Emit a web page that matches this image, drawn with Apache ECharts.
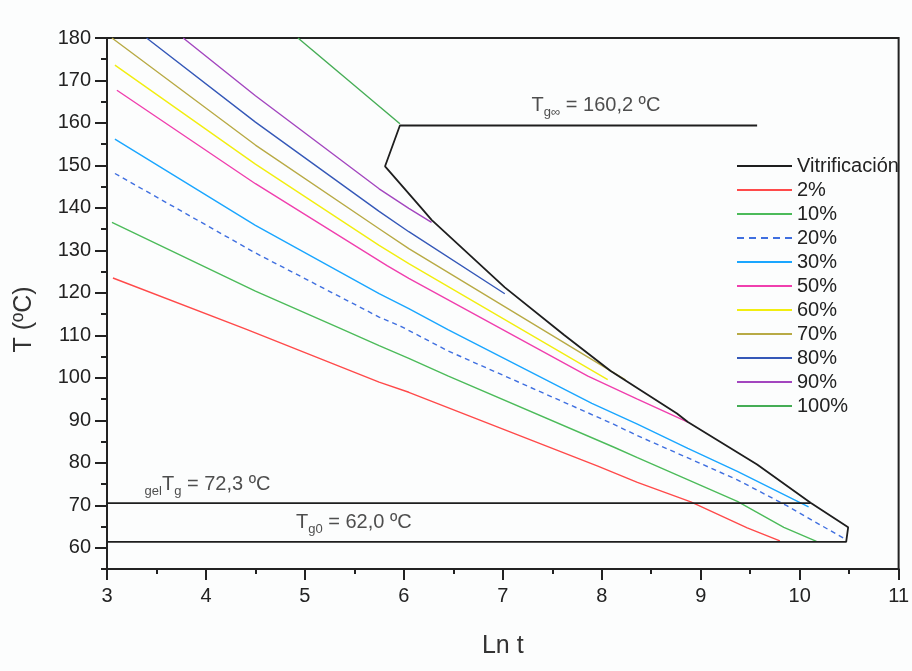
<!DOCTYPE html>
<html><head><meta charset="utf-8">
<script src="https://cdn.jsdelivr.net/npm/echarts@6/dist/echarts.min.js"></script>
<style>html,body{margin:0;padding:0;background:#fcfdfd}#c{width:912px;height:671px}</style>
</head><body><div id="c"></div>
<script>
const FONT = "'Liberation Sans', Arial, sans-serif";

// Tick labels
const xTicks = [3, 4, 5, 6, 7, 8, 9, 10, 11];
const yTicks = [60, 70, 80, 90, 100, 110, 120, 130, 140, 150, 160, 170, 180];

// Vitrificación curve (Ln t, T)
const vitX = [9.57, 5.96, 5.81, 6.18, 6.28, 7.02, 7.62, 8.09, 8.76, 8.87, 9.57, 10.11, 10.49, 10.47, 3.0];
const vitY = [159.4, 159.4, 149.8, 139.9, 137.2, 121.3, 110.1, 101.6, 91.6, 89.6, 79.6, 70.6, 64.8, 61.4, 61.4];
// gelTg line
const gelX = [3.0, 10.11];
const gelY = [70.5, 70.5];

// Isoconversion curves
const c2X = [3.06, 4.41, 5.75, 6.05, 7.96, 8.36, 8.90, 9.47, 9.80];
const c2Y = [123.5, 111.4, 99.0, 96.6, 79.2, 75.4, 70.8, 64.7, 61.6];
const c10X = [3.05, 4.5, 5.34, 5.75, 6.05, 6.45, 8.13, 8.36, 9.37, 9.84, 10.17];
const c10Y = [136.6, 120.4, 111.8, 107.6, 104.6, 100.4, 83.6, 81.2, 70.9, 64.8, 61.5];
const c20X = [3.08, 4.5, 5.75, 5.98, 6.45, 8.09, 8.36, 9.37, 9.87, 10.47];
const c20Y = [148.1, 129.4, 114.3, 112.0, 106.3, 89.4, 86.4, 76.0, 69.9, 61.9];
const c30X = [3.08, 4.5, 5.75, 6.05, 6.45, 7.90, 8.36, 8.87, 9.37, 10.09];
const c30Y = [156.2, 135.9, 119.8, 116.3, 111.3, 94.0, 89.1, 83.4, 78.0, 69.6];
const c50X = [3.10, 4.5, 5.83, 6.05, 7.86, 8.36, 8.87];
const c50Y = [167.7, 145.7, 126.4, 123.4, 100.4, 95.0, 89.6];
const c60X = [3.08, 4.5, 5.75, 6.05, 8.06];
const c60Y = [173.6, 150.3, 131.2, 126.9, 99.6];
const c70X = [3.05, 4.5, 5.75, 6.05, 8.24];
const c70Y = [180.0, 154.8, 135.1, 130.4, 99.5];
const c80X = [3.40, 4.5, 5.75, 6.05, 7.02];
const c80Y = [180.0, 160.2, 139.2, 134.4, 119.8];
const c90X = [3.77, 4.5, 5.75, 6.05, 6.28];
const c90Y = [180.0, 166.4, 144.5, 139.9, 136.6];
const c100X = [4.93, 5.96];
const c100Y = [180.0, 159.8];

const names = ['Vitrificación', '2%', '10%', '20%', '30%', '50%', '60%', '70%', '80%', '90%', '100%'];
const colors = ['#1e1e1e', '#ff4a4a', '#4cbb5a', '#3f6fe0', '#1aa6ff', '#f03fae', '#f2ee10', '#b8aa45', '#3558b8', '#a346bf', '#45ad55'];
const curvesX = [vitX, c2X, c10X, c20X, c30X, c50X, c60X, c70X, c80X, c90X, c100X];
const curvesY = [vitY, c2Y, c10Y, c20Y, c30Y, c50Y, c60Y, c70Y, c80Y, c90Y, c100Y];

// Annotations
const annX = [7.29, 3.38, 4.91];
const annY = [164.2, 74.9, 65.9];
const annText = [
  '{m|T}{s|g∞}{m| = 160,2 ºC}',
  '{s|gel}{m|T}{s|g}{m| = 72,3 ºC}',
  '{m|T}{s|g0}{m| = 62,0 ºC}'
];

const zip = (xs, ys) => xs.map((x, i) => [x, ys[i]]);

const series = names.map((n, i) => ({
  name: n,
  type: 'line',
  data: zip(curvesX[i], curvesY[i]),
  symbol: 'none',
  showSymbol: false,
  smooth: false,
  z: i === 0 ? 5 : 3,
  lineStyle: { color: colors[i], width: i === 0 ? 1.8 : 1.4, type: n === '20%' ? [5, 4] : 'solid' },
  itemStyle: { color: colors[i] }
}));
series.push({
  name: 'gel', type: 'line', data: zip(gelX, gelY), symbol: 'none',
  lineStyle: { color: '#1e1e1e', width: 1.8 }, z: 5
});
series.push({
  name: 'ann', type: 'scatter', symbolSize: 0,
  data: annX.map((x, i) => ({ value: [x, annY[i]], label: { formatter: annText[i] } })),
  label: {
    show: true, position: [0, 0], align: 'left', verticalAlign: 'middle',
    rich: {
      m: { fontSize: 20, fontFamily: FONT, color: '#222' },
      s: { fontSize: 13, fontFamily: FONT, color: '#222', padding: [14, 0, 0, 0] }
    }
  },
  z: 10
});

const dashIcon = 'path://M0,0h7v2h-7z M12,0h7v2h-7z M24,0h7v2h-7z M36,0h7v2h-7z M48,0h7v2h-7z';

const chart = echarts.init(document.getElementById('c'));
chart.setOption({
  backgroundColor: '#fcfdfd',
  animation: false,
  grid: { left: 107, right: 10, top: 38, bottom: 102, show: true, borderColor: '#222', borderWidth: 2, backgroundColor: 'transparent' },
  legend: {
    data: names.map(n => ({ name: n, icon: n === '20%' ? dashIcon : 'rect' })),
    orient: 'vertical', left: 732, top: 151,
    itemWidth: 55, itemHeight: 2, itemGap: 4,
    textStyle: { fontSize: 20, fontFamily: FONT, color: '#222', lineHeight: 20 }
  },
  xAxis: {
    type: 'value', min: 3, max: 11, interval: 1,
    name: 'Ln t', nameLocation: 'middle', nameGap: 65,
    nameTextStyle: { fontSize: 25, fontFamily: FONT, color: '#333' },
    axisLine: { show: true, lineStyle: { color: '#222', width: 2 } },
    axisTick: { show: true, length: 11, lineStyle: { color: '#222', width: 2 } },
    minorTick: { show: true, splitNumber: 2, length: 5, lineStyle: { color: '#222', width: 2 } },
    axisLabel: { fontSize: 20, fontFamily: FONT, color: '#222', margin: 17, customValues: xTicks },
    splitLine: { show: false }
  },
  yAxis: [{
    type: 'value', min: 55, max: 180,
    name: 'T (ºC)', nameLocation: 'middle', nameGap: 70,
    nameTextStyle: { fontSize: 25, fontFamily: FONT, color: '#333', padding: [0, 32, 0, 0] },
    axisLine: { show: true, lineStyle: { color: '#222', width: 2 } },
    axisTick: { show: true, length: 12, customValues: yTicks, lineStyle: { color: '#222', width: 2 } },
    axisLabel: { fontSize: 20, fontFamily: FONT, color: '#222', margin: 16, customValues: yTicks },
    splitLine: { show: false }
  }, {
    type: 'value', min: 55, max: 180, interval: 5, position: 'left',
    axisLine: { show: false },
    axisTick: { show: true, length: 6, lineStyle: { color: '#222', width: 2 } },
    axisLabel: { show: false },
    splitLine: { show: false }
  }],
  series: series
});
</script>
</body></html>
